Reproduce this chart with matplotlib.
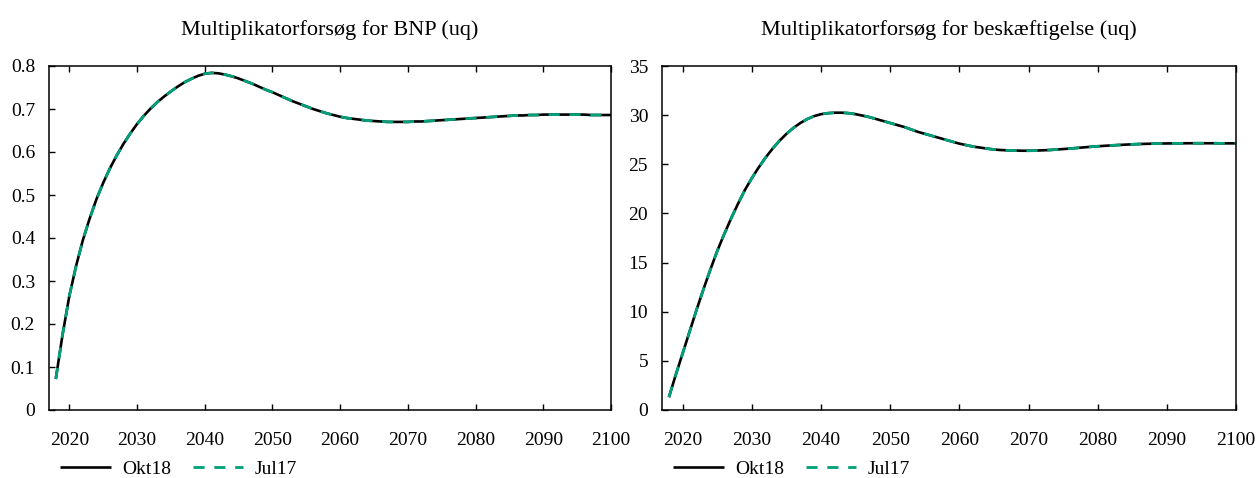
import matplotlib
matplotlib.use("Agg")
import matplotlib.pyplot as plt

plt.rcParams['font.family'] = ['Liberation Serif', 'DejaVu Serif']

years = list(range(2018, 2101))

okt18_bnp = [
    0.072, 0.175, 0.265, 0.335, 0.395, 0.445, 0.490, 0.528, 0.562, 0.592,
    0.619, 0.643, 0.665, 0.684, 0.701, 0.716, 0.729, 0.741, 0.752, 0.762,
    0.770, 0.777, 0.782, 0.784, 0.783, 0.780, 0.776, 0.771, 0.765, 0.759,
    0.752, 0.745, 0.739, 0.732, 0.725, 0.718, 0.712, 0.706, 0.700, 0.695,
    0.690, 0.686, 0.682, 0.679, 0.677, 0.675, 0.673, 0.672, 0.671, 0.670,
    0.670, 0.670, 0.670, 0.671, 0.671, 0.672, 0.673, 0.674, 0.675, 0.676,
    0.677, 0.678, 0.679, 0.680, 0.681, 0.682, 0.683, 0.684, 0.685, 0.685,
    0.686, 0.686, 0.687, 0.687, 0.687, 0.687, 0.687, 0.687, 0.687, 0.686,
    0.686, 0.686, 0.686,
]
jul17_bnp = list(okt18_bnp)  # the two series coincide in the picture

okt18_besk = [
    1.3, 3.6, 5.8, 8.0, 10.2, 12.3, 14.3, 16.2, 17.9, 19.5,
    21.0, 22.4, 23.6, 24.7, 25.7, 26.6, 27.4, 28.1, 28.7, 29.2,
    29.6, 29.9, 30.1, 30.2, 30.25, 30.25, 30.2, 30.1, 29.95, 29.8,
    29.6, 29.4, 29.2, 29.0, 28.8, 28.55, 28.3, 28.1, 27.9, 27.7,
    27.5, 27.3, 27.1, 26.95, 26.8, 26.7, 26.6, 26.5, 26.45, 26.42,
    26.4, 26.38, 26.38, 26.39, 26.42, 26.45, 26.5, 26.55, 26.6, 26.66,
    26.72, 26.78, 26.83, 26.88, 26.92, 26.96, 27.0, 27.03, 27.06, 27.08,
    27.1, 27.11, 27.12, 27.13, 27.13, 27.14, 27.14, 27.14, 27.14, 27.14,
    27.13, 27.13, 27.13,
]
jul17_besk = list(okt18_besk)

titles = ["Multiplikatorforsøg for BNP (uq)", "Multiplikatorforsøg for beskæftigelse (uq)"]
series_names = ["Okt18", "Jul17"]
x_ticks = [2020, 2030, 2040, 2050, 2060, 2070, 2080, 2090, 2100]
y_ticks_bnp = [0, 0.1, 0.2, 0.3, 0.4, 0.5, 0.6, 0.7, 0.8]
y_labels_bnp = ["0", "0.1", "0.2", "0.3", "0.4", "0.5", "0.6", "0.7", "0.8"]
y_ticks_besk = [0, 5, 10, 15, 20, 25, 30, 35]

green = "#00A07A"
fs = 14
fs_title = 16

fig = plt.figure(figsize=(12.59, 4.78), dpi=100)
W, H = 1259, 478
ax1 = fig.add_axes([49 / W, 1 - 410 / H, (611 - 49) / W, (410 - 66) / H])
ax2 = fig.add_axes([662 / W, 1 - 410 / H, (1236 - 662) / W, (410 - 66) / H])

panels = [
    (ax1, okt18_bnp, jul17_bnp, y_ticks_bnp, y_labels_bnp, (0, 0.8)),
    (ax2, okt18_besk, jul17_besk, y_ticks_besk, [str(v) for v in y_ticks_besk], (0, 35)),
]
for i, (ax, a, b, yt, yl, ylim) in enumerate(panels):
    ax.plot(years, a, color="black", lw=1.9, label=series_names[0], solid_capstyle="butt")
    ax.plot(years, b, color=green, lw=2.0, dashes=(4, 3.5), label=series_names[1])
    ax.set_xlim(2017, 2100)
    ax.set_ylim(*ylim)
    ax.set_xticks(x_ticks)
    ax.set_xticklabels([str(t) for t in x_ticks])
    ax.set_yticks(yt)
    ax.set_yticklabels(yl)
    ax.tick_params(axis="x", direction="in", top=True, bottom=True, length=4, width=1,
                   labelsize=fs, pad=16)
    ax.tick_params(axis="y", direction="in", left=True, right=False, length=4, width=1,
                   labelsize=fs, pad=10)
    for s in ax.spines.values():
        s.set_linewidth(1.1)
    ax.set_title(titles[i], fontsize=fs_title, pad=22)
    ax.legend(loc="center left", bbox_to_anchor=(0.006, -0.172), ncol=2, frameon=False,
              fontsize=fs, handlelength=2.6, columnspacing=1.1, handletextpad=0.6,
              borderaxespad=0)

fig.savefig("out.png", dpi=100)
